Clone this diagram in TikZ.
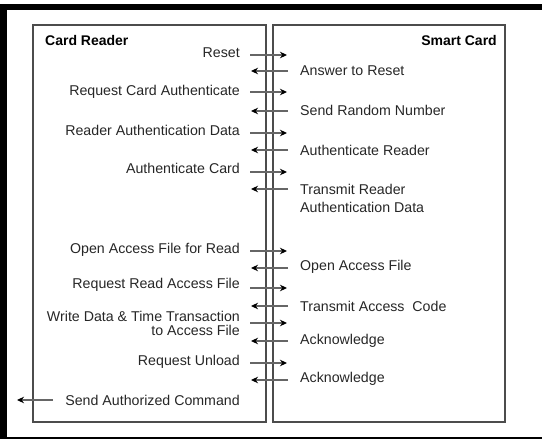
\documentclass[tikz,border=0pt]{standalone}
\usepackage{fontspec}
\setmainfont{Liberation Sans}
\usetikzlibrary{arrows.meta}
\begin{document}
\begin{tikzpicture}[x=1pt,y=-1pt,
  lbl/.style={inner sep=0pt,font=\fontsize{14.2}{16}\selectfont,text=black!85},
  lt/.style={lbl,anchor=east},
  rt/.style={lbl,anchor=west},
  title/.style={inner sep=0pt,font=\fontsize{14}{16}\selectfont\bfseries},
  msg/.style={draw=black!60,line width=1.2pt,-{Stealth[black,length=7pt,width=6.5pt]}},
  panel/.style={draw=black!70,line width=1.2pt}]
\useasboundingbox (0,0) rectangle (542,439);
% outer frame
\fill[black] (0,4) rectangle (542,10);
\fill[black] (0,4) rectangle (7,439);
\fill[black] (0,437) rectangle (542,439);
% panels
\draw[panel] (33,25) rectangle (266,422);
\draw[panel] (273,25) rectangle (505,422);
\node[title,anchor=west] (cr) at (45,40) {Card Reader};
\node[title,anchor=east] (sc) at (497,40) {Smart Card};
% labels
\node[lt] (l1) at (240,53) {Reset};
\node[rt] (r1) at (300,71) {Answer to Reset};
\node[lt] (l2) at (240,92) {Request Card Authenticate};
\node[rt] (r2) at (300,110) {Send Random Number};
\node[lt] (l3) at (240,130) {Reader Authentication Data};
\node[rt] (r3) at (300,150) {Authenticate Reader};
\node[lt] (l4) at (240,168) {Authenticate Card};
\node[rt,align=left,font=\fontsize{14.2}{18}\selectfont] (r4) at (300,198) {Transmit Reader\\Authentication Data};
\node[lt] (l5) at (240,250) {Open Access File for Read};
\node[rt] (r5) at (300,267) {Open Access File};
\node[lt] (l6) at (240,285) {Request Read Access File};
\node[rt] (r6) at (300,306) {Transmit Access\ \ Code};
\node[lt,align=right,font=\fontsize{14.2}{14}\selectfont] (l7) at (240,323) {Write Data \& Time Transaction\\to Access File};
\node[rt] (r7) at (300,341) {Acknowledge};
\node[lt] (l8) at (240,362) {Request Unload};
\node[rt] (r8) at (300,379) {Acknowledge};
\node[lt] (l9) at (240,400) {Send Authorized Command};
% arrow end points
\foreach \n/\y in {1/55,2/92,3/133,4/172,5/251,6/288,7/323,8/363}{
  \coordinate (a\n s) at (250,\y);
  \coordinate (a\n e) at (287,\y);
  \draw[msg] (a\n s) -- (a\n e);
}
\foreach \n/\y in {1/71,2/111,3/150,4/189,5/268,6/306,7/341,8/380}{
  \coordinate (b\n s) at (288,\y);
  \coordinate (b\n e) at (251,\y);
  \draw[msg] (b\n s) -- (b\n e);
}
\coordinate (cs) at (53,400);
\coordinate (ce) at (17,400);
\draw[msg] (cs) -- (ce);
\end{tikzpicture}
\end{document}
